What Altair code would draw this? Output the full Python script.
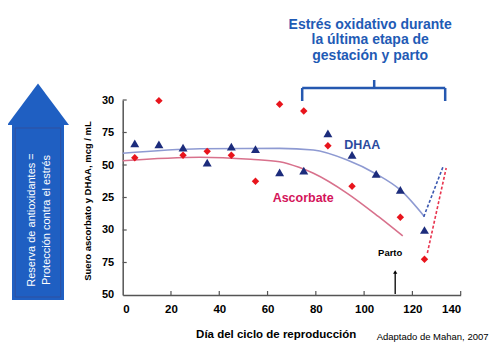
import altair as alt
import pandas as pd

# ---------------- data ----------------
days = [5, 15, 25, 35, 45, 55, 65, 75, 85, 95, 105, 115, 125]
dhaa = [166.7, 165.9, 163.3, 151.8, 164.1, 162.3, 144.4, 145.6, 174.4, 157.7, 143.1, 130.8, 100.0]

asc_days = [5, 15, 25, 35, 45, 55, 65, 75, 85, 95, 115, 125]
asc = [155.6, 199.5, 157.5, 160.5, 157.5, 137.5, 196.7, 191.5, 164.8, 133.6, 109.8, 77.5]

dhaa_fit_days = [0, 32, 65, 79, 93, 105, 115, 125]
dhaa_fit = [159.0, 162.5, 162.8, 161.5, 153.8, 143.1, 130.8, 110.2]
asc_fit_days = [0, 32, 53, 65, 73, 79, 93, 106, 116]
asc_fit = [153.3, 156.0, 154.4, 152.5, 148.2, 143.6, 128.2, 110.2, 95.4]

dhaa_rec_days = [124.7, 132.8]
dhaa_rec = [110.2, 149.2]
asc_rec_days = [126.2, 134.0]
asc_rec = [82.3, 147.7]

x_ticks = [0, 20, 40, 60, 80, 100, 120, 140]
y_ticks = [50, 75, 100, 125, 150, 175, 200]
y_tick_labels = ["50", "75", "30", "25", "50", "75", "30"]  # bottom to top, as printed

title_lines = ["Estrés oxidativo durante", "la última etapa de", "gestación y parto"]
arrow_lines = ["Reserva de antioxidantes =", "Protección contra el estrés"]

W, H = 338, 195
FONT = "Liberation Sans"

xs = alt.Scale(domain=[0, 140], nice=False, zero=False)
ys = alt.Scale(domain=[50, 200], nice=False, zero=False)

one = pd.DataFrame({"a": [0]})

label_expr = "[" + ",".join("'%s'" % s for s in y_tick_labels) + "][round((datum.value-50)/25)]"

x_axis = alt.Axis(values=x_ticks, ticks=False, grid=False, title=None, domainColor="#555",
                  domainWidth=1.5, labelFont=FONT, labelFontWeight="bold", labelFontSize=11.5,
                  labelColor="black", labelPadding=9)
y_axis = alt.Axis(values=y_ticks, ticks=False, grid=False, title=None, domainColor="#555",
                  domainWidth=1.5, labelFont=FONT, labelFontWeight="bold", labelFontSize=11,
                  labelColor="black", labelPadding=9, labelExpr=label_expr)


def X(field):
    return alt.X(field, scale=xs, axis=x_axis)


def Y(field):
    return alt.Y(field, scale=ys, axis=y_axis)


# ---------------- curves ----------------
dhaa_curve = alt.Chart(pd.DataFrame({"day": dhaa_fit_days, "v": dhaa_fit})).mark_line(
    interpolate="monotone", color="#8e9ad2", strokeWidth=1.6
).encode(x=X("day:Q"), y=Y("v:Q"))

asc_curve = alt.Chart(pd.DataFrame({"day": asc_fit_days, "v": asc_fit})).mark_line(
    interpolate="monotone", color="#d8718c", strokeWidth=1.6
).encode(x=X("day:Q"), y=Y("v:Q"))

dhaa_dash = alt.Chart(pd.DataFrame({"day": dhaa_rec_days, "v": dhaa_rec})).mark_line(
    color="#3b58b0", strokeWidth=1.6, strokeDash=[3, 2]
).encode(x=X("day:Q"), y=Y("v:Q"))

asc_dash = alt.Chart(pd.DataFrame({"day": asc_rec_days, "v": asc_rec})).mark_line(
    color="#e8344e", strokeWidth=1.6, strokeDash=[3, 2]
).encode(x=X("day:Q"), y=Y("v:Q"))

# ---------------- points ----------------
tri = alt.Chart(pd.DataFrame({"day": days, "v": dhaa})).mark_point(
    shape="triangle-up", filled=True, size=80, color="#1c2c7c", opacity=1
).encode(x=X("day:Q"), y=Y("v:Q"))

dia = alt.Chart(pd.DataFrame({"day": asc_days, "v": asc})).mark_point(
    shape="diamond", filled=True, size=55, color="#e8141c", opacity=1
).encode(x=X("day:Q"), y=Y("v:Q"))

# ---------------- inward ticks ----------------
xt = alt.Chart(pd.DataFrame({"day": x_ticks[1:]})).mark_rule(color="#555", strokeWidth=1.2).encode(
    x=X("day:Q"), y=alt.value(H), y2=alt.value(H - 4))
yt = alt.Chart(pd.DataFrame({"v": y_ticks[1:]})).mark_rule(color="#555", strokeWidth=1.2).encode(
    y=Y("v:Q"), x=alt.value(0), x2=alt.value(4))


# ---------------- texts ----------------
def txt(text, x, y, size, color="black", weight="bold", angle=0, align="center", baseline="middle", lh=None):
    kw = dict(text=text, font=FONT, fontSize=size, fontWeight=weight, color=color,
              align=align, baseline=baseline)
    if angle:
        kw["angle"] = angle
    if lh:
        kw["lineHeight"] = lh
    return alt.Chart(one).mark_text(**kw).encode(x=alt.value(x), y=alt.value(y))


dhaa_lbl = txt("DHAA", 239.5, 45, 12.5, color="#2b4a9e")
asc_lbl = txt("Ascorbate", 180.5, 98, 12.5, color="#d4145a")
title = txt(title_lines, 247.5, -75, 14, color="#1f5bb5", lh=15.5)
ytitle = txt("Suero ascorbato y DHAA, mcg / mL", -35, 101, 9.5, angle=270)
xtitle = txt("Día del ciclo de reproducción", 153.5, 235, 11.5)
source = txt("Adaptado de Mahan, 2007", 254, 237, 9.5, weight="normal", align="left")
parto = txt("Parto", 267.5, 153, 9.5)

parto_rule = alt.Chart(one).mark_rule(color="black", strokeWidth=1.3).encode(
    x=alt.value(272.5), y=alt.value(173), y2=alt.value(194))
parto_head = alt.Chart(one).mark_point(shape="triangle-up", filled=True, size=18, color="black",
                                       opacity=1).encode(x=alt.value(272.5), y=alt.value(172))

# ---------------- brace ----------------
BR = "#2558b0"
brace = [
    alt.Chart(one).mark_rule(color=BR, strokeWidth=2.5).encode(x=alt.value(179.5), x2=alt.value(322.5), y=alt.value(-12)),
    alt.Chart(one).mark_rule(color=BR, strokeWidth=2.5).encode(x=alt.value(179.5), y=alt.value(-12), y2=alt.value(1)),
    alt.Chart(one).mark_rule(color=BR, strokeWidth=2.5).encode(x=alt.value(322.5), y=alt.value(-12), y2=alt.value(1)),
    alt.Chart(one).mark_rule(color=BR, strokeWidth=2.5).encode(x=alt.value(251.5), y=alt.value(-20), y2=alt.value(-12)),
]

# ---------------- big arrow ----------------
AB = "#1f5fc2"
arrow_body = alt.Chart(one).mark_rect(color=AB, opacity=1).encode(
    x=alt.value(-110.7), x2=alt.value(-58.7), y=alt.value(24), y2=alt.value(200))
arrow_inner = alt.Chart(one).mark_rect(fill=None, stroke="#3050a0", strokeWidth=1, opacity=1).encode(
    x=alt.value(-107.5), x2=alt.value(-62), y=alt.value(28), y2=alt.value(197))
arrow_head = alt.Chart(one).mark_point(
    shape="M-1,0.668L0,-0.668L1,0.668Z", filled=True, size=3844, color=AB, opacity=1
).encode(x=alt.value(-84.7), y=alt.value(4.3))
arrow_t1 = txt(arrow_lines[0], -91, 120, 11, color="white", weight="normal", angle=270)
arrow_t2 = txt(arrow_lines[1], -76, 120, 11, color="white", weight="normal", angle=270)

chart = alt.layer(
    dhaa_curve, asc_curve, dhaa_dash, asc_dash, xt, yt, tri, dia,
    arrow_body, arrow_inner, arrow_head, arrow_t1, arrow_t2,
    *brace, title,
    dhaa_lbl, asc_lbl, ytitle, xtitle, source, parto, parto_rule, parto_head,
).properties(
    width=W, height=H,
    autosize=alt.AutoSizeParams(type="none"),
    padding={"left": 114.7, "top": 92, "right": 29, "bottom": 53},
    background="white",
).configure_view(stroke=None)

chart.save("out.html", embed_options={"renderer": "svg", "actions": False})
